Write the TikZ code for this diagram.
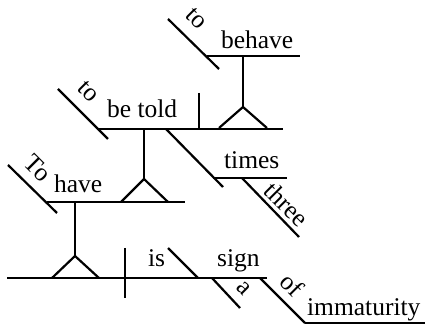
\documentclass[tikz,border=0pt]{standalone}
\usepackage{fontspec}
\setmainfont{Liberation Serif}
\begin{document}
\begin{tikzpicture}[x=1pt,y=-1pt,line width=2.2pt,
  ln/.style={draw=black,line cap=butt},
  word/.style={inner sep=0pt,anchor=base west,font=\fontsize{25.5}{30}\selectfont},
  sword/.style={inner sep=0pt,anchor=center,rotate=-45,font=\fontsize{25.5}{30}\selectfont}]
\useasboundingbox (0,0) rectangle (425,328);
% coordinates
\coordinate (bhL) at (207,56); \coordinate (bhR) at (300,56);
\coordinate (toAa) at (168,19); \coordinate (toAb) at (219,69);
\coordinate (bhS) at (243,56); \coordinate (bhT) at (243,107);
\coordinate (bhTL) at (219,128); \coordinate (bhTR) at (267,128);
\coordinate (btL) at (98,129); \coordinate (btR) at (283,129);
\coordinate (toBa) at (58,89); \coordinate (toBb) at (108,139);
\coordinate (barAt) at (199,93); \coordinate (barAb) at (199,129);
\coordinate (btS) at (144,129); \coordinate (btT) at (144,179);
\coordinate (btTL) at (121,202); \coordinate (btTR) at (168,202);
\coordinate (hvL) at (47,202); \coordinate (hvR) at (185,202);
\coordinate (toCa) at (8,165); \coordinate (toCb) at (57,213);
\coordinate (tmA) at (166,129); \coordinate (tmB) at (223,187);
\coordinate (tmL) at (213,178); \coordinate (tmR) at (287,178);
\coordinate (thA) at (242,178); \coordinate (thB) at (299,237);
\coordinate (hvS) at (75,202); \coordinate (hvT) at (75,256);
\coordinate (hvTL) at (52,278); \coordinate (hvTR) at (99,278);
\coordinate (baseL) at (7,278); \coordinate (baseR) at (267,278);
\coordinate (barBt) at (125,248); \coordinate (barBb) at (125,298);
\coordinate (isA) at (168,248); \coordinate (isB) at (198,278);
\coordinate (aA) at (212,278); \coordinate (aB) at (240,308);
\coordinate (ofA) at (260,278); \coordinate (ofB) at (305,323);
\coordinate (imR) at (425,323);
% lines
\draw[ln] (bhL) -- (bhR);
\draw[ln] (toAa) -- (toAb);
\draw[ln] (bhS) -- (bhT);
\draw[ln,line join=miter] (bhTL) -- (bhT) -- (bhTR);
\draw[ln] (btL) -- (btR);
\draw[ln] (toBa) -- (toBb);
\draw[ln] (barAt) -- (barAb);
\draw[ln] (btS) -- (btT);
\draw[ln,line join=miter] (btTL) -- (btT) -- (btTR);
\draw[ln] (hvL) -- (hvR);
\draw[ln] (toCa) -- (toCb);
\draw[ln] (tmA) -- (tmB);
\draw[ln] (tmL) -- (tmR);
\draw[ln] (thA) -- (thB);
\draw[ln] (hvS) -- (hvT);
\draw[ln,line join=miter] (hvTL) -- (hvT) -- (hvTR);
\draw[ln] (baseL) -- (baseR);
\draw[ln] (barBt) -- (barBb);
\draw[ln] (isA) -- (isB);
\draw[ln] (aA) -- (aB);
\draw[ln] (ofA) -- (ofB);
\draw[ln] (ofB) -- (imR);
% words
\node[word] (wbehave) at (220,49) {behave};
\node[word] (wbetold) at (106,118) {be told};
\node[word] (whave) at (53,193) {have};
\node[word] (wtimes) at (223,169) {times};
\node[word] (wis) at (147,267) {is};
\node[word] (wsign) at (216,267) {sign};
\node[word] (wimm) at (306,315) {immaturity};
\node[sword] (wtoA) at (196,19) {to};
\node[sword] (wtoB) at (88,92) {to};
\node[sword] (wtoC) at (38,168) {To};
\node[sword] (wthree) at (287,204) {three};
\node[sword] (wa) at (244,288) {a};
\node[sword] (wof) at (292,285) {of};
\end{tikzpicture}
\end{document}
